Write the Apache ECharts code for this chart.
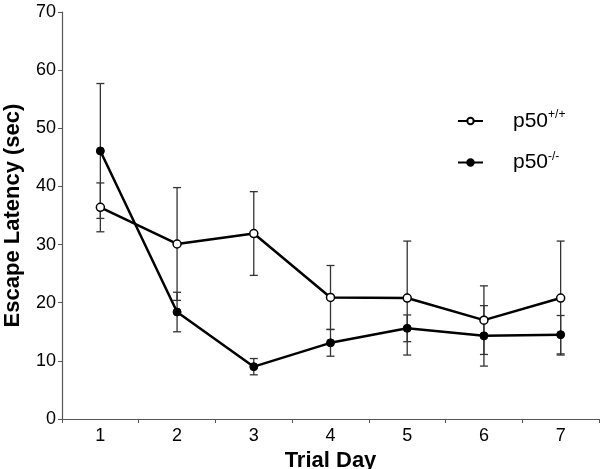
<!DOCTYPE html>
<html>
<head>
<meta charset="utf-8">
<script src="https://cdn.jsdelivr.net/npm/echarts@6/dist/echarts.min.js"></script>
<style>html,body{margin:0;padding:0;background:#fff}#c{width:600px;height:469px}</style>
</head>
<body>
<div id="c"></div>
<script>
const days = ['1','2','3','4','5','6','7'];
const wtMean = [36.4, 30.1, 31.9, 20.9, 20.8, 17.0, 20.8];
const wtErr  = [4.2, 9.7, 7.2, 5.5, 9.8, 5.9, 9.8];
const koMean = [46.1, 18.4, 9.0, 13.1, 15.6, 14.3, 14.5];
const koErr  = [11.6, 3.4, 1.4, 2.3, 2.3, 5.2, 3.3];
const yTicks = [0, 10, 20, 30, 40, 50, 60, 70];

const FONT = '"Liberation Sans", Arial, Helvetica, sans-serif';

function errData(mean, err) {
  return mean.map((m, i) => [i, m - err[i], m + err[i]]);
}
function errRender(params, api) {
  const x = api.value(0);
  const lo = api.coord([x, api.value(1)]);
  const hi = api.coord([x, api.value(2)]);
  const hw = 4;
  const style = { stroke: '#333', lineWidth: 1.3 };
  return {
    type: 'group',
    children: [
      { type: 'line', shape: { x1: hi[0], y1: hi[1], x2: lo[0], y2: lo[1] }, style },
      { type: 'line', shape: { x1: hi[0] - hw, y1: hi[1], x2: hi[0] + hw, y2: hi[1] }, style },
      { type: 'line', shape: { x1: lo[0] - hw, y1: lo[1], x2: lo[0] + hw, y2: lo[1] }, style }
    ]
  };
}

const chart = echarts.init(document.getElementById('c'), null, { renderer: 'canvas' });
chart.setOption({
  animation: false,
  backgroundColor: '#fff',
  textStyle: { fontFamily: FONT },
  grid: { left: 62, right: 1, top: 12, bottom: 50, containLabel: false, outerBoundsMode: 'none' },
  legend: {
    orient: 'vertical',
    left: 452,
    top: 104,
    itemWidth: 25,
    itemHeight: 8,
    itemGap: 19,
    data: ['wt', 'ko'],
    formatter: function (name) {
      return name === 'wt' ? '{a|p50}{s|+/+}' : '{a|p50}{s|-/-}';
    },
    textStyle: {
      padding: [0, 0, 0, 25],
      rich: {
        a: { fontSize: 21, fontFamily: FONT, color: '#000', lineHeight: 24 },
        s: { fontSize: 12, fontFamily: FONT, color: '#000', verticalAlign: 'top', lineHeight: 24, padding: [0, 0, 10, 0] }
      }
    }
  },
  xAxis: {
    type: 'category',
    data: days,
    boundaryGap: true,
    name: 'Trial Day',
    nameLocation: 'middle',
    nameGap: 23,
    nameTextStyle: { fontSize: 22, fontWeight: 'bold', color: '#000', fontFamily: FONT },
    axisLine: { lineStyle: { color: '#555', width: 1.2 } },
    axisTick: { show: true, length: 4, interval: 0, lineStyle: { color: '#555' } },
    axisLabel: { fontSize: 18, color: '#000', margin: 8, fontFamily: FONT },
    splitLine: { show: false }
  },
  yAxis: {
    type: 'value',
    min: yTicks[0],
    max: yTicks[yTicks.length - 1],
    interval: 10,
    name: 'Escape Latency (sec)',
    nameLocation: 'middle',
    nameGap: 38,
    nameTextStyle: { fontSize: 22, fontWeight: 'bold', color: '#000', fontFamily: FONT },
    axisLine: { show: true, lineStyle: { color: '#555', width: 1.2 } },
    axisTick: { show: true, length: 4, lineStyle: { color: '#555' } },
    axisLabel: { fontSize: 18, color: '#000', margin: 6, fontFamily: FONT },
    splitLine: { show: false }
  },
  series: [
    {
      name: 'wtErr', type: 'custom', renderItem: errRender,
      data: errData(wtMean, wtErr), z: 1, silent: true
    },
    {
      name: 'koErr', type: 'custom', renderItem: errRender,
      data: errData(koMean, koErr), z: 1, silent: true
    },
    {
      name: 'wt', type: 'line', data: wtMean, z: 3,
      symbol: 'circle', symbolSize: 8,
      lineStyle: { color: '#000', width: 2.5 },
      itemStyle: { color: '#fff', borderColor: '#000', borderWidth: 1.5 }
    },
    {
      name: 'ko', type: 'line', data: koMean, z: 4,
      symbol: 'circle', symbolSize: 8,
      lineStyle: { color: '#000', width: 2.5 },
      itemStyle: { color: '#000', borderColor: '#000', borderWidth: 1 }
    }
  ]
});
</script>
</body>
</html>
